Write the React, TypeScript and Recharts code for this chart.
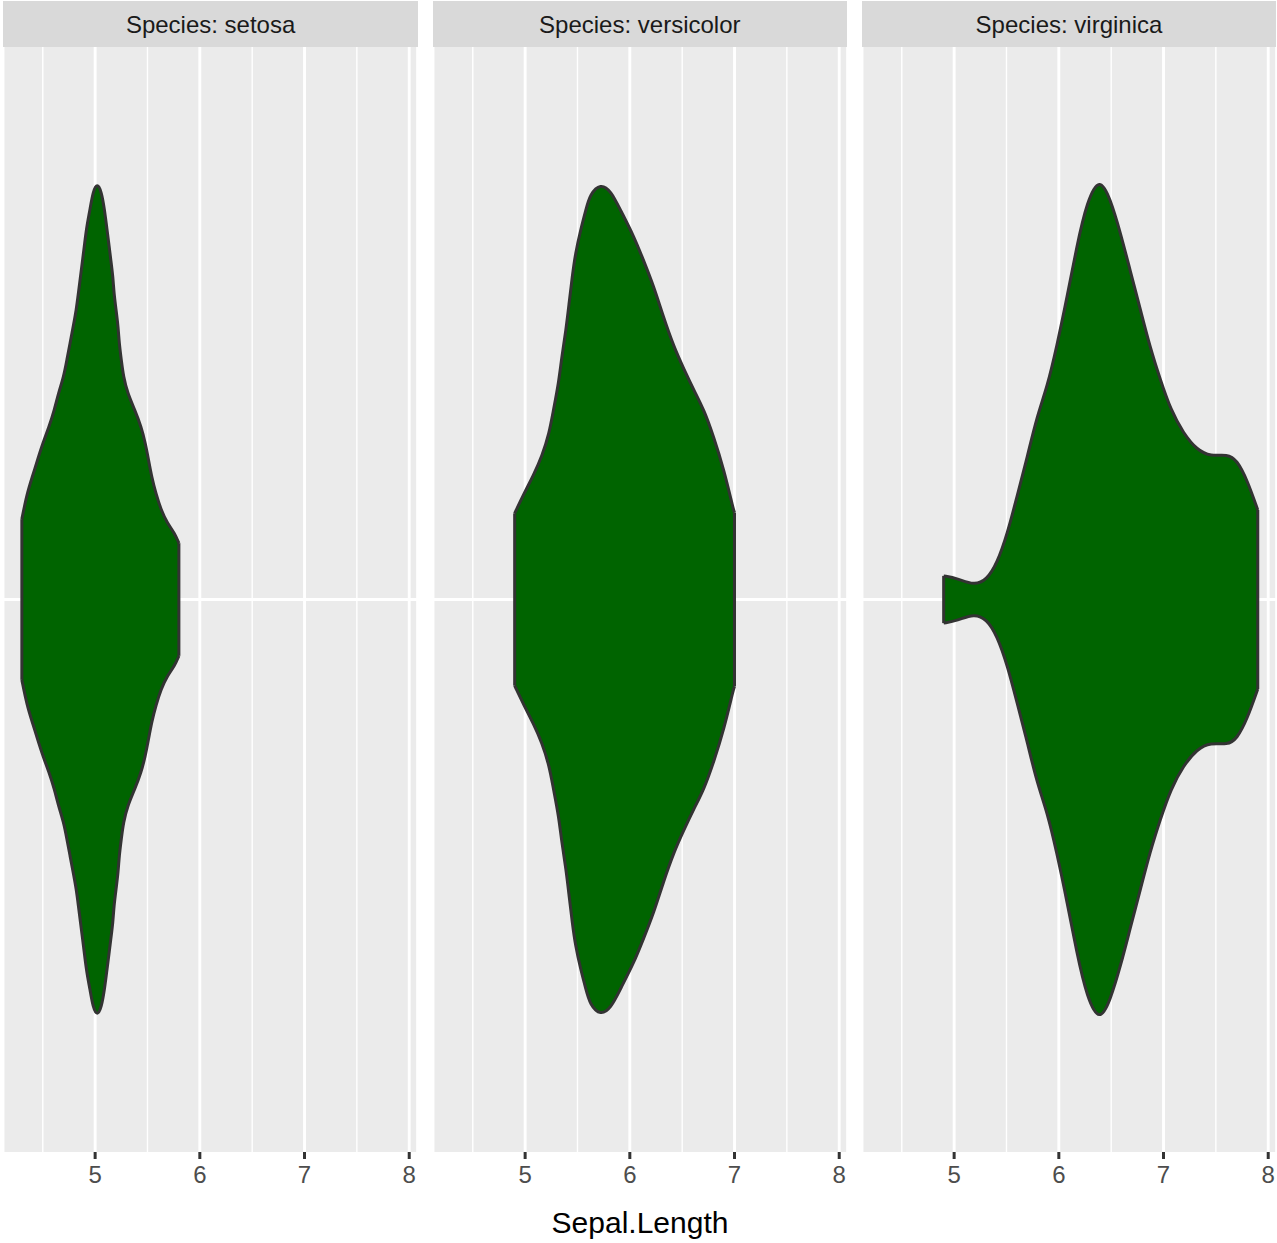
import React from "react";
import { ComposedChart, Area, XAxis, YAxis, CartesianGrid, ReferenceLine } from "recharts";

const xTicks = [5, 6, 7, 8];
const minorTicks = [4.5, 5.5, 6.5, 7.5];
const xDomain: [number, number] = [4.12, 8.08];
// violin half-width is relative to the widest point (1 = full 0.45 of the band)
const yDomain: [number, number] = [-4 / 3, 4 / 3];

// Sepal.Length positions and relative half-widths
const setosaX = [
  4.3, 4.35, 4.4, 4.45, 4.5, 4.56, 4.61, 4.65, 4.7, 4.73, 4.76, 4.79, 4.82, 4.84, 4.86, 4.88, 4.9, 4.92, 4.95,
  4.98, 5.02, 5.06, 5.09, 5.11, 5.13, 5.15, 5.17, 5.18, 5.2, 5.22, 5.23, 5.25, 5.27, 5.31, 5.38, 5.44, 5.48,
  5.51, 5.54, 5.58, 5.63, 5.69, 5.76, 5.8,
];
const setosaW = [
  0.194, 0.256, 0.296, 0.337, 0.377, 0.417, 0.457, 0.498, 0.538, 0.578, 0.618, 0.658, 0.699, 0.739, 0.779,
  0.819, 0.86, 0.9, 0.94, 0.985, 1.005, 0.985, 0.94, 0.9, 0.86, 0.819, 0.779, 0.739, 0.699, 0.658, 0.618, 0.578,
  0.538, 0.498, 0.457, 0.417, 0.377, 0.337, 0.296, 0.256, 0.216, 0.184, 0.16, 0.136,
];

const versicolorX = [
  4.9, 4.99, 5.08, 5.16, 5.23, 5.27, 5.32, 5.35, 5.39, 5.42, 5.45, 5.48, 5.53, 5.58, 5.62, 5.72, 5.82, 5.91,
  6.04, 6.13, 6.23, 6.32, 6.42, 6.52, 6.61, 6.71, 6.8, 6.9, 6.99, 7.0,
];
const versicolorW = [
  0.208, 0.256, 0.3, 0.345, 0.401, 0.457, 0.522, 0.586, 0.65, 0.715, 0.779, 0.835, 0.892, 0.94, 0.978, 1.004,
  0.986, 0.94, 0.876, 0.819, 0.755, 0.682, 0.61, 0.554, 0.506, 0.457, 0.393, 0.3125, 0.216, 0.21,
];

const virginicaX = [
  4.9, 4.9, 5.03, 5.19, 5.31, 5.41, 5.51, 5.6, 5.7, 5.79, 5.89, 5.98, 6.08, 6.17, 6.27, 6.39, 6.49, 6.59, 6.68,
  6.78, 6.87, 6.97, 7.07, 7.19, 7.32, 7.45, 7.61, 7.7, 7.8, 7.9,
];
const virginicaW = [
  0.057, 0.057, 0.051, 0.034, 0.047, 0.087, 0.16, 0.248, 0.345, 0.441, 0.514, 0.61, 0.731, 0.851, 0.962, 1.02, 0.968,
  0.884, 0.795, 0.699, 0.61, 0.53, 0.457, 0.401, 0.361, 0.345, 0.351, 0.337, 0.288, 0.216,
];

const speciesNames = ["setosa", "versicolor", "virginica"];

const PANEL_W = 414.6;
const PANEL_STEP = 429.2;
const PANEL_LEFT = 3.3;
const FONT = '"Liberation Sans", Arial, Helvetica, sans-serif';

function Panel({ name, xs, ws, left }: { name: string; xs: number[]; ws: number[]; left: number }) {
  const data = xs.map((x, i) => ({ x, band: [-ws[i], ws[i]] }));
  const n = xs.length - 1;
  return (
    <>
      <div style={{ position: "absolute", left, top: 1, width: PANEL_W, height: 46, background: "#D9D9D9" }} />
      <div
        style={{
          position: "absolute",
          left,
          top: 13,
          width: PANEL_W,
          textAlign: "center",
          fontSize: 24,
          lineHeight: "24px",
          color: "#1A1A1A",
        }}
      >
        Species: {name}
      </div>
      <div style={{ position: "absolute", left, top: 47 }}>
        <ComposedChart width={PANEL_W} height={1165} data={data} margin={{ top: 0, right: 0, bottom: 0, left: 0 }}>
          <CartesianGrid fill="#EBEBEB" fillOpacity={1} stroke="#FFFFFF" strokeWidth={2.9} horizontal={false} />
          <XAxis
            type="number"
            dataKey="x"
            domain={xDomain}
            ticks={xTicks}
            interval={0}
            allowDataOverflow
            axisLine={false}
            tickSize={7}
            tickMargin={7}
            tickLine={{ stroke: "#333333", strokeWidth: 3 }}
            tick={{ fill: "#4D4D4D", fontSize: 24 }}
            height={60}
          />
          <YAxis type="number" domain={yDomain} ticks={[0]} hide width={0} />
          {minorTicks.map((v) => (
            <ReferenceLine key={v} x={v} stroke="#FFFFFF" strokeWidth={1.4} zIndex={-90} />
          ))}
          <ReferenceLine y={0} stroke="#FFFFFF" strokeWidth={2.9} zIndex={-90} />
          <Area
            type="basis"
            dataKey="band"
            fill="#006400"
            fillOpacity={1}
            stroke="#333333"
            strokeWidth={3}
            dot={false}
            activeDot={false}
            isAnimationActive={false}
            zIndex={100}
          />
          <ReferenceLine
            segment={[{ x: xs[0], y: -ws[0] }, { x: xs[0], y: ws[0] }]}
            stroke="#333333"
            strokeWidth={3}
            zIndex={150}
          />
          <ReferenceLine
            segment={[{ x: xs[n], y: -ws[n] }, { x: xs[n], y: ws[n] }]}
            stroke="#333333"
            strokeWidth={3}
            zIndex={150}
          />
        </ComposedChart>
      </div>
    </>
  );
}

export default function App() {
  const series = [
    { xs: setosaX, ws: setosaW },
    { xs: versicolorX, ws: versicolorW },
    { xs: virginicaX, ws: virginicaW },
  ];
  return (
    <div
      style={{
        position: "absolute",
        left: 0,
        top: 0,
        width: 1277,
        height: 1243,
        background: "#FFFFFF",
        fontFamily: FONT,
      }}
    >
      {speciesNames.map((name, i) => (
        <Panel key={name} name={name} xs={series[i].xs} ws={series[i].ws} left={PANEL_LEFT + i * PANEL_STEP} />
      ))}
      <div
        style={{
          position: "absolute",
          left: 3,
          top: 1208,
          width: 1274,
          textAlign: "center",
          fontSize: 30,
          lineHeight: "30px",
          color: "#000000",
        }}
      >
        Sepal.Length
      </div>
    </div>
  );
}
